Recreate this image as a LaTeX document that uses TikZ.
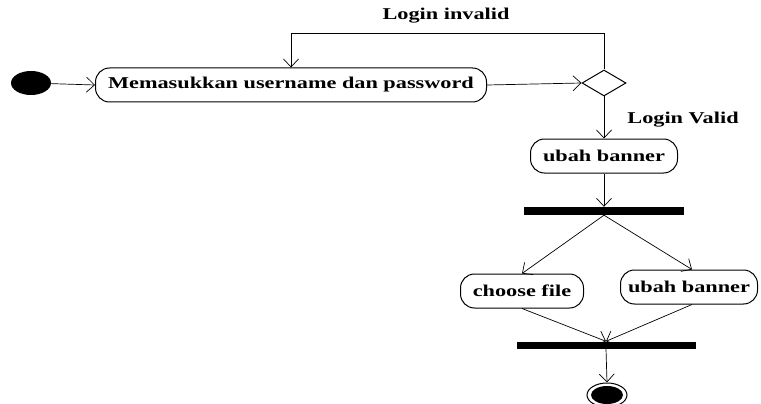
\documentclass[tikz,border=0pt]{standalone}
\usepackage{fontspec}
\setmainfont{Liberation Serif}
\usetikzlibrary{shapes.geometric,arrows.meta}

\newcommand{\wide}[1]{\scalebox{1.35}[1]{\bfseries #1}}

\begin{document}
\begin{tikzpicture}[
	x=1pt, y=-1pt,
	every node/.style={font=\fontsize{16.5}{18}\selectfont},
	activity/.style={draw, line width=1pt, rounded corners=14pt,
		minimum height=34pt, inner sep=0pt},
	bar/.style={fill=black, inner sep=0pt},
	flow/.style={-{Straight Barb[length=8pt,width=15pt]}, line width=0.7pt},
	label/.style={inner sep=0pt}
	]
	\useasboundingbox (0,0) rectangle (761,404);

	% Start and end
	\node[ellipse, fill=black, minimum width=40pt, minimum height=24pt, inner sep=0pt] (start) at (31,83) {};
	\node[ellipse, draw, line width=1pt, minimum width=40pt, minimum height=24pt, inner sep=0pt] (final) at (607,395) {};
	\fill (final.center) ellipse (16pt and 9pt);

	% Activities
	\node[activity, minimum width=391pt] (login) at (291,85) {\wide{Memasukkan username dan password}};
	\node[diamond, draw, line width=1pt, minimum width=44pt, minimum height=26pt, inner sep=0pt] (check) at (604,83) {};
	\node[activity, minimum width=147pt] (banner) at (604,156) {\wide{ubah banner}};
	\node[activity, minimum width=123pt] (file) at (522,291) {\wide{choose file}};
	\node[activity, minimum width=137pt] (bannertwo) at (689,287) {\wide{ubah banner}};

	% Fork and join
	\node[bar, minimum width=160pt, minimum height=8pt] (fork) at (604,211) {};
	\node[bar, minimum width=179pt, minimum height=7pt] (join) at (606,345) {};

	% Guards
	\node[label] (invalid) at (446,16) {\wide{Login invalid}};
	\node[label] (valid) at (683,120) {\wide{Login Valid}};

	% Flows
	\draw[flow] (start) -- (login.west);
	\draw[flow] (login.east) -- (check.west);
	\draw[flow] (check.north) -- ++(0,-36) -| (login.north);
	\draw[flow] (check.south) -- (banner.north);
	\draw[flow] (banner.south) -- (fork.north);
	\draw[flow] (fork.south) -- (file.north);
	\draw[flow] (fork.south) -- ([xshift=3pt]bannertwo.north);
	\draw[flow] (file.south) -- (join.north);
	\draw[flow] ([xshift=3pt]bannertwo.south) -- (join.north);
	\draw[flow] (join.south) -- (final.north);
\end{tikzpicture}
\end{document}
